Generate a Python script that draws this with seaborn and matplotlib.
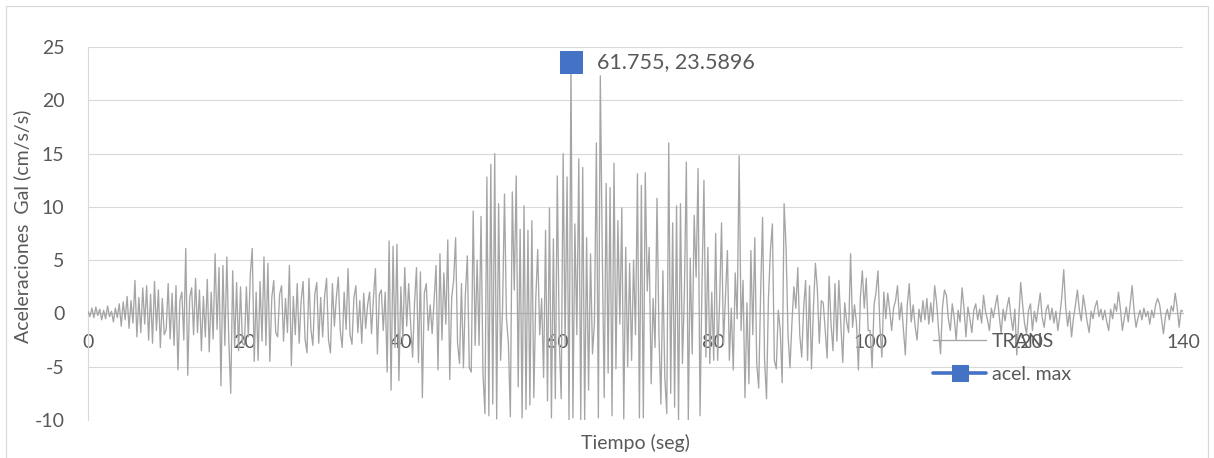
import numpy as np
import pandas as pd
import matplotlib
matplotlib.use("Agg")
import matplotlib.pyplot as plt
from matplotlib.patches import Rectangle
import seaborn as sns

# ---------------- data ----------------
dt = 0.25  # seconds between samples
acc_000_010 = [0.2, -0.3, 0.5, -0.4, 0.6, -0.2, 0.4, -0.6,
               0.3, -0.5, 0.7, -0.3, 0.2, -0.8, 0.5, -0.4,
               0.9, -1.2, 1.1, -0.6, 1.6, -1.4, 1.2, -0.9,
               3.1, -2.2, 1.5, -1.8, 2.4, -1.0, 2.6, -2.5,
               1.8, -2.8, 3.0, -1.6, 2.2, -3.2, 1.4, -2.0]
acc_010_020 = [-1.5, 2.8, -2.4, 1.9, -3.0, 2.6, -5.3, 1.2,
               2.0, -2.5, 6.1, -5.8, 1.5, 2.4, -2.0, 3.3,
               -1.8, 2.2, -3.5, 1.6, -2.2, 3.2, -3.6, 2.0,
               -2.4, 5.6, -1.5, 4.3, -6.8, 4.5, -3.0, 5.3,
               -2.5, -7.5, 4.0, -3.2, 2.9, -3.5, 2.5, -2.8]
acc_020_030 = [-3.0, 2.5, -2.2, 3.6, 6.1, -4.5, 2.0, -4.4,
               3.0, -2.6, 5.3, -3.0, 4.7, -4.5, 1.5, 3.1,
               -1.8, -2.2, 1.8, 2.6, -2.6, 1.4, -1.8, 4.5,
               -4.9, 1.6, -2.0, 2.8, -2.8, 1.2, 3.0, -2.4,
               -3.7, 3.3, -1.5, -3.0, 1.8, 2.9, -2.8, 1.5]
acc_030_040 = [-2.2, 1.6, 3.3, -2.5, -3.7, 2.8, -1.2, 1.5,
               3.4, -1.6, -3.2, 2.0, -1.5, 4.2, -2.0, -2.9,
               1.5, 2.6, -1.8, 1.2, -2.8, 1.9, -1.4, 0.8,
               2.0, -1.9, 1.5, 4.2, -3.8, 1.8, 2.2, -1.6,
               2.0, -5.5, 6.8, -7.2, 6.3, -3.2, 6.5, -6.3]
acc_040_050 = [2.5, -2.5, 4.3, -1.2, 2.8, -1.0, -4.1, 1.0,
               4.3, -4.6, 3.9, -7.9, 1.9, 2.8, -1.6, 0.8,
               -1.9, 1.2, 4.5, -5.3, 5.6, -2.5, 3.8, -1.0,
               6.9, -6.2, 1.5, 3.1, 7.1, -2.8, -4.7, 2.8,
               -5.1, 1.8, 5.4, -5.1, -5.5, 9.6, -3.0, 5.0]
acc_050_060 = [-3.0, 9.1, -5.6, -9.4, 12.8, -9.6, 14.0, -8.5,
               15.0, -9.9, 10.3, -4.4, 0.3, 11.2, -0.4, -2.8,
               -9.7, 11.4, 2.2, 12.9, -6.9, 7.9, -9.8, 10.1,
               -9.0, 7.8, -8.6, 8.7, -7.9, 1.4, 6.0, -2.0,
               1.4, -6.0, 7.8, -8.2, 9.9, -9.8, 7.0, -8.0]
acc_060_070 = [12.9, -2.5, -8.0, 15.0, -3.0, 12.8, -10.0, 23.5896,
               -9.8, 8.4, -2.0, 14.5, -10.0, 13.7, -10.0, 7.1,
               -7.2, 5.6, -3.8, -0.9, 16.0, -9.8, 22.3, 5.9,
               -7.9, 12.2, -5.6, 11.8, -9.6, 14.1, -5.2, 8.7,
               -1.0, 9.9, -9.9, 6.2, -5.0, 4.7, -4.4, 5.0]
acc_070_080 = [-2.0, 13.1, -9.8, 12.0, -9.8, 13.2, 2.1, 6.2,
               -6.6, 1.4, -3.2, 10.8, -2.0, -8.5, 4.0, -6.1,
               -9.4, 16.0, -7.5, 8.5, -8.8, 10.1, -10.0, 10.3,
               -4.7, 1.9, 14.2, -10.0, 5.2, -3.8, 9.2, 3.4,
               13.6, -9.6, 2.7, 12.5, -4.1, 6.2, -4.7, 2.0]
acc_080_090 = [-4.4, 7.5, -4.4, 1.0, 8.5, -2.9, 1.5, 5.9,
               -4.4, 0.5, -5.3, 3.8, -0.5, 14.8, -1.6, 3.1,
               -7.9, 1.0, -6.6, 5.9, -2.0, 7.1, -4.7, -7.0,
               2.0, 9.0, -4.4, -8.0, 1.5, 5.9, 8.4, -4.4,
               -5.2, 0.3, -1.5, -6.5, 10.3, 6.2, -2.0, -5.1]
acc_090_100 = [-0.9, 2.5, 0.5, 4.3, -2.0, -4.1, 0.5, 3.1,
               -4.4, 2.6, -5.2, 0.5, 4.7, 2.3, -2.8, 1.2,
               1.0, -1.5, -4.2, 3.5, -1.0, -3.5, 2.8, -2.6,
               3.1, -1.0, -4.6, 1.0, -0.8, -1.8, 5.6, -1.3,
               0.8, -0.9, -5.3, 1.5, 4.0, 0.5, 3.3, -1.6]
acc_100_110 = [-1.6, -5.1, 0.8, 2.0, 4.0, -1.2, -4.1, 2.0,
               -0.5, 1.9, 0.3, -1.6, 0.5, 1.2, 2.6, -0.6,
               1.0, -1.5, -3.9, 0.8, 2.8, -0.8, 0.8, -1.2,
               -2.5, 0.4, -0.8, 1.2, -0.6, 1.4, -1.0, 1.0,
               -0.8, 2.6, 1.0, -1.5, -3.8, 0.6, 2.2, 1.7]
acc_110_120 = [-0.5, -1.6, 0.9, -0.4, -2.5, 0.3, -0.8, 2.4,
               0.5, -2.2, 0.6, -0.5, -1.8, 0.3, 0.9, -0.6,
               0.4, -0.9, 1.7, 0.2, -0.6, -1.6, 0.5, -0.4,
               0.7, 1.7, -0.2, -1.9, 0.4, -0.7, 0.6, 1.5,
               -0.3, -1.6, 0.4, -3.9, -0.5, 2.9, 0.8, -1.0]
acc_120_130 = [-1.9, 0.3, 0.9, -1.6, 0.2, -0.8, 0.6, 1.9,
               -0.4, -1.3, 0.3, 0.8, -0.6, 0.5, -0.9, 0.2,
               -1.6, -0.2, 1.5, 4.1, 0.6, -1.2, 0.2, -2.2,
               -0.4, 0.8, 2.2, 0.3, -0.7, 1.7, 0.5, -0.8,
               -1.8, 0.2, -0.5, 0.6, 1.2, -0.3, 0.4, -0.6]
acc_130_140 = [0.3, -0.8, -1.6, 0.4, -0.5, 0.9, 0.2, 2.0,
               0.4, -1.6, -0.4, 0.6, -0.8, 0.9, 2.6, 0.2,
               -1.3, -0.4, 0.3, -0.6, 0.5, -0.3, 0.2, -1.0,
               0.3, -0.4, 0.8, 1.4, 0.9, -0.5, -1.9, -0.3,
               0.4, -0.6, 0.7, 0.2, 1.9, 0.6, -1.3, 0.3,
               0.2]

acc = (acc_000_010 + acc_010_020 + acc_020_030 + acc_030_040 + acc_040_050
       + acc_050_060 + acc_060_070 + acc_070_080 + acc_080_090 + acc_090_100
       + acc_100_110 + acc_110_120 + acc_120_130 + acc_130_140)
time = np.arange(len(acc)) * dt

peak_t = [61.755]
peak_a = [23.5896]
peak_label = "61.755, 23.5896"

series_names = ["TRANS", "acel. max"]
x_ticks = [0, 20, 40, 60, 80, 100, 120, 140]
y_ticks = [-10, -5, 0, 5, 10, 15, 20, 25]
x_title = "Tiempo (seg)"
y_title = "Aceleraciones  Gal (cm/s/s)"

# ---------------- drawing ----------------
sns.set_style("white")
plt.rcParams["font.family"] = ["Lato", "DejaVu Sans"]
plt.rcParams["axes.unicode_minus"] = False
TXT = "#595959"
GRID = "#d9d9d9"

W, H = 1214, 458
fig = plt.figure(figsize=(W / 100, H / 100), dpi=100)
ax = fig.add_axes([88 / W, 1 - 420 / H, 1095 / W, 373 / H])

df = pd.DataFrame({"t": time, "a": acc})
sns.lineplot(data=df, x="t", y="a", ax=ax, color="#a5a5a5", lw=0.95,
             estimator=None, sort=False, label=series_names[0], zorder=3)
dfp = pd.DataFrame({"t": peak_t, "a": peak_a})
sns.lineplot(data=dfp, x="t", y="a", ax=ax, color="#4472c4", lw=2.6,
             marker="s", markersize=16.5, markeredgecolor="#4472c4",
             estimator=None, label=series_names[1], zorder=5)

ax.annotate(peak_label, xy=(peak_t[0], peak_a[0]), xytext=(18.5, 0),
            textcoords="offset points", ha="left", va="center",
            fontsize=15.5, color=TXT, zorder=6)

ax.set_xlim(0, 140)
ax.set_ylim(-10, 25)
ax.set_xticks(x_ticks)
ax.set_yticks(y_ticks)
ax.grid(axis="y", color=GRID, lw=0.8)
ax.grid(axis="x", visible=False)
ax.set_axisbelow(True)
for s in ["top", "right"]:
    ax.spines[s].set_visible(False)
ax.spines["left"].set_color(GRID)
ax.spines["left"].set_linewidth(0.8)
ax.spines["bottom"].set_position(("data", 0))
ax.spines["bottom"].set_color("#bfbfbf")
ax.spines["bottom"].set_linewidth(0.9)
ax.tick_params(length=0, labelsize=14, colors=TXT)
ax.tick_params(axis="y", pad=17)
ax.tick_params(axis="x", pad=15)

ax.set_xlabel(x_title, fontsize=14, color=TXT)
ax.xaxis.set_label_coords(0.5, (420 - 443) / 373)
ax.xaxis.label.set_va("center")
ax.set_ylabel(y_title, fontsize=14, color=TXT)
ax.yaxis.set_label_coords((22 - 88) / 1095, (420 - 226) / 373)
ax.yaxis.label.set_va("center")

leg = ax.legend(loc="upper left", bbox_to_anchor=((933 - 88) / 1095, (420 - 333) / 373),
                frameon=False, fontsize=14, handlelength=2.73, handletextpad=0.3,
                labelspacing=0.8, borderpad=0, borderaxespad=0)
for t in leg.get_texts():
    t.set_color(TXT)
leg.legend_handles[1].set_markersize(11)

fig.add_artist(Rectangle((6 / W, -0.02), (1208 - 6) / W, 1 - 6 / H + 0.02,
                         transform=fig.transFigure, fill=False,
                         edgecolor=GRID, lw=0.9))

fig.savefig("out.png", dpi=100)
